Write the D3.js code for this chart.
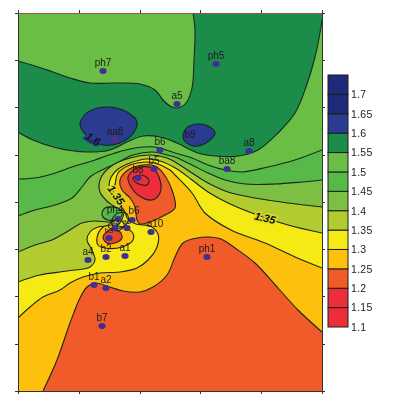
<!DOCTYPE html>
<html>
<head>
<meta charset="utf-8">
<script src="https://cdn.jsdelivr.net/npm/d3@7"></script>
<style>
  html, body { margin: 0; padding: 0; background: #fff; }
  svg { display: block; filter: blur(0.4px); font-family: "Liberation Sans", Arial, sans-serif; }
  .contour { fill: none; stroke: #17291c; stroke-width: 1.1px; }
  .axis path, .axis line { stroke: #333; stroke-width: 1px; }
</style>
</head>
<body>
<svg id="chart" width="398" height="405"></svg>
<script>
var svgWidth = 398;
var svgHeight = 405;

// legend
var levels = [1.1, 1.15, 1.2, 1.25, 1.3, 1.35, 1.4, 1.45, 1.5, 1.55, 1.6, 1.65, 1.7, 1.75];
var levelLabels = [1.1, 1.15, 1.2, 1.25, 1.3, 1.35, 1.4, 1.45, 1.5, 1.55, 1.6, 1.65, 1.7];
var bandColors = ['#ed2e3a', '#ed2e3a', '#f15a29', '#fdc10d', '#f6ea14', '#b2cc30', '#7dbf43',
  '#57b947', '#6abd45', '#1b8c4a', '#2b3b90', '#202a7a', '#202a7a'];

// ticks, map units
var xTicks = [0, 61, 122, 182, 243, 304];
var yTicks = [0, 47, 95, 142, 189, 236, 284, 331, 378];

// isolines, [x, y] in map units
var darkUpper = [[0,330],[17,325],[32,320],[52,313],[72,308],[97,308],[122,307],[137,301],[145,291],[152,285],[159,283],[168,288],[174,303],[176,331],[177,361],[175,378]];
var darkLower = [[0,259],[15,251],[39,243],[69,239],[92,241],[109,249],[125,255],[142,254],[159,248],[180,238],[197,235],[220,235],[240,241],[260,258],[277,278],[288,304],[297,334],[303,364],[304,371]];
var navyWest = [[62,268],[70,279],[89,284],[109,279],[119,269],[114,256],[102,248],[85,246],[72,253],[64,261]];
var navyEast = [[165,256],[170,264],[180,267],[190,265],[197,258],[192,251],[180,245],[172,246],[166,251]];
var iso150 = [[0,212],[17,213],[34,217],[54,224],[77,231],[97,238],[117,243],[137,244],[157,238],[174,233],[190,226],[207,221],[224,219],[250,224],[277,231],[304,241]];
var iso145 = [[0,175],[17,181],[37,186],[54,193],[64,204],[72,214],[84,221],[97,227],[115,236],[135,239],[149,236],[157,234],[174,226],[190,218],[207,211],[227,207],[257,207],[284,209],[304,211]];
var iso140 = [[0,139],[17,146],[34,151],[47,158],[64,168],[77,170],[90,169],[96,170],[97,183],[90,189],[82,199],[82,211],[92,224],[112,233],[132,236],[149,233],[157,229],[174,218],[190,208],[210,199],[237,193],[270,188],[304,184]];
var iso135 = [[0,109],[22,116],[49,120],[72,124],[77,131],[74,141],[69,151],[72,159],[80,164],[92,165],[101,167],[106,181],[100,190],[92,201],[92,211],[99,221],[112,228],[129,232],[142,230],[159,222],[174,211],[190,199],[210,188],[234,178],[270,166],[304,158]];
var iso130 = [[0,73],[12,84],[25,94],[42,101],[52,108],[65,114],[82,118],[102,119],[119,123],[130,131],[139,144],[140,157],[132,165],[125,166],[118,167],[109,173],[107,179],[102,186],[95,198],[97,206],[100,218],[112,226],[127,229],[137,228],[152,221],[157,216],[174,198],[187,178],[213,161],[247,148],[277,134],[304,123]];
var iso125 = [[25,0],[39,31],[52,68],[62,93],[69,104],[77,108],[92,104],[105,100],[122,99],[135,104],[149,116],[157,134],[165,148],[179,153],[190,154],[203,152],[217,143],[237,128],[260,103],[280,81],[304,59]];
var peakOrange = [[102,211],[110,221],[125,226],[137,225],[145,218],[155,198],[157,183],[147,176],[132,169],[122,167],[119,171],[117,184],[112,193],[104,201]];
var peakRed = [[110,214],[119,223],[134,223],[142,211],[142,198],[134,191],[120,196],[112,206]];
var peakInner = [[115,213],[124,216],[131,211],[129,206],[119,208]];
var spotAmber = [[79,153],[84,163],[94,166],[114,159],[115,151],[104,144],[87,143],[80,146]];
var spotRed = [[85,154],[92,161],[102,159],[104,153],[97,148],[89,148]];
var clusterGreen = [[84,176],[87,183],[100,183],[104,179],[102,173],[90,171]];
var clusterRing = [[94,171],[100,178],[109,177],[110,169],[102,163],[95,165]];
var clusterInner = [[90,165],[97,171],[104,170],[106,165],[99,160]];

// sample points
var pointNames = ['ph7','a5','ph5','aa8','b9','b6','b5','b8','a8','ba8','ph1','ph4','b6','a3','a6','b3','a10','a4','b2','a1','b1','a2','b7'];
var pointX = [85,159,198,97,172,142,136,120,231,209,189,100,114,97,109,91,133,70,88,107,76,88,84];
var pointY = [320,287,327,251,256,241,222,213,240,222,134,172,171,163,163,153,159,131,134,135,106,103,65];

// labels sitting on isolines
var isoLabels = ['1.6', '1.35', '1.35'];
var isoLabelX = [75, 247, 98];
var isoLabelY = [252, 173, 196];

var x = d3.scaleLinear().domain([0, 304]).range([18, 322]);
var y = d3.scaleLinear().domain([0, 378]).range([391, 13]);
var legendY = d3.scaleLinear().domain([1.1, 1.75]).range([327, 75]);

var svg = d3.select('#chart');

svg.append('clipPath')
  .attr('id', 'plotClip')
  .append('rect')
  .attr('x', x(0))
  .attr('y', y(378))
  .attr('width', x(304) - x(0))
  .attr('height', y(0) - y(378));

var plot = svg.append('g').attr('clip-path', 'url(#plotClip)');

var openLine = d3.line()
  .x(function(d) { return x(d[0]); })
  .y(function(d) { return y(d[1]); })
  .curve(d3.curveCatmullRom.alpha(0.5));

var closedLine = d3.line()
  .x(function(d) { return x(d[0]); })
  .y(function(d) { return y(d[1]); })
  .curve(d3.curveCatmullRomClosed.alpha(0.5));

function colorOf(level) {
  return bandColors[levels.indexOf(level)];
}

function toCorner(c) {
  return 'L' + x(c[0]) + ',' + y(c[1]);
}

// isoline, then straight along the map edge to close the area
function edgeFill(line, corners, color) {
  plot.append('path')
    .attr('d', openLine(line) + corners.map(toCorner).join('') + 'Z')
    .attr('fill', color);
  plot.append('path').attr('class', 'contour').attr('d', openLine(line));
}

function blob(line, color) {
  plot.append('path')
    .attr('class', 'contour')
    .attr('d', closedLine(line))
    .style('fill', color || 'none');
}

var bottomCorners = [[304, 0], [0, 0]];

plot.append('rect')
  .attr('x', x(0))
  .attr('y', y(378))
  .attr('width', x(304) - x(0))
  .attr('height', y(0) - y(378))
  .attr('fill', colorOf(1.5));

// dark green band has two isolines
plot.append('path')
  .attr('d', openLine(darkUpper) + toCorner([304, 378]) + openLine(darkLower.slice().reverse()).replace('M', 'L') + 'Z')
  .attr('fill', colorOf(1.55));
plot.append('path').attr('class', 'contour').attr('d', openLine(darkUpper));
plot.append('path').attr('class', 'contour').attr('d', openLine(darkLower));

blob(navyWest, colorOf(1.6));
blob(navyEast, colorOf(1.6));

edgeFill(iso150, bottomCorners, colorOf(1.45));
edgeFill(iso145, bottomCorners, colorOf(1.4));
edgeFill(iso140, bottomCorners, colorOf(1.35));
edgeFill(iso135, bottomCorners, colorOf(1.3));
edgeFill(iso130, bottomCorners, colorOf(1.25));
edgeFill(iso125, [[304, 0]], colorOf(1.2));

blob(peakOrange, colorOf(1.2));
blob(peakRed, colorOf(1.15));
blob(peakInner, colorOf(1.1));
blob(spotAmber, colorOf(1.25));
blob(spotRed, '#ea4529');
blob(clusterGreen, colorOf(1.45));
blob(clusterRing);
blob(clusterInner);

// frame
function frame(axis, dx, dy, color) {
  var g = svg.append('g')
    .attr('class', 'axis')
    .attr('transform', 'translate(' + dx + ',' + dy + ')')
    .call(axis.tickSize(3).tickFormat(''));
  if (color) g.select('.domain').style('stroke', color);
}
frame(d3.axisBottom(x).tickValues(xTicks), 0, y(0));
frame(d3.axisTop(x).tickValues(xTicks), 0, y(378), '#a04f4f');
frame(d3.axisLeft(y).tickValues(yTicks), x(0), 0);
frame(d3.axisRight(y).tickValues(yTicks), x(304), 0);

// labels on isolines
svg.selectAll('.isoLabel')
  .data(isoLabels)
  .enter()
  .append('text')
  .attr('class', 'isoLabel')
  .attr('transform', function(d, i) {
    var angle = [32, 14, 55][i];
    return 'translate(' + x(isoLabelX[i]) + ',' + y(isoLabelY[i]) + ') rotate(' + angle + ')';
  })
  .attr('text-anchor', 'middle')
  .attr('dy', '0.35em')
  .attr('font-size', 11)
  .attr('font-weight', 'bold')
  .attr('font-style', 'italic')
  .attr('fill', '#111')
  .style('paint-order', 'stroke')
  .style('stroke-width', '3px')
  .style('stroke', function(d, i) {
    return [colorOf(1.6), '#dcdf20', '#d8dc20'][i];
  })
  .text(function(d) { return d; });

// sample points and their names
// offsets by index, the crowded cluster near the middle is nudged apart
var labelDx = { 11: -3, 12: 2, 16: 4 };
var labelDy = { 4: 3, 3: -5, 11: -6, 12: -6, 13: -4, 14: -4 };
var smallLabels = [13, 14, 15];

svg.selectAll('.point')
  .data(pointNames)
  .enter()
  .append('ellipse')
  .attr('class', 'point')
  .attr('cx', function(d, i) { return x(pointX[i]); })
  .attr('cy', function(d, i) { return y(pointY[i]); })
  .attr('rx', 3.6)
  .attr('ry', 3)
  .attr('fill', function(d) { return d === 'aa8' ? '#5b2d86' : '#3f2f94'; });

svg.selectAll('.pointName')
  .data(pointNames)
  .enter()
  .append('text')
  .attr('class', 'pointName')
  .attr('x', function(d, i) { return x(pointX[i]) + (labelDx[i] || 0); })
  .attr('y', function(d, i) { return y(pointY[i]) + (i in labelDy ? labelDy[i] : -5); })
  .attr('text-anchor', 'middle')
  .attr('font-size', function(d, i) { return smallLabels.indexOf(i) >= 0 ? 7.5 : 10; })
  .attr('fill', '#1c1c1c')
  .text(function(d) { return d; });

// legend bar
var legendBands = levels.slice(0, -1);

svg.selectAll('.band')
  .data(legendBands)
  .enter()
  .append('rect')
  .attr('class', 'band')
  .attr('x', 328)
  .attr('width', 20)
  .attr('y', function(d, i) { return legendY(levels[i + 1]); })
  .attr('height', function(d, i) { return legendY(levels[i]) - legendY(levels[i + 1]); })
  .attr('fill', function(d, i) { return bandColors[i]; })
  .attr('stroke', '#1c1c1c')
  .attr('stroke-width', 1);

var legendAxis = d3.axisRight(legendY)
  .tickValues(levelLabels)
  .tickSize(0)
  .tickPadding(3)
  .tickFormat(function(d) { return d; });

var legendG = svg.append('g')
  .attr('transform', 'translate(348,0)')
  .call(legendAxis);
legendG.select('.domain').remove();
legendG.selectAll('text')
  .attr('font-size', 10.5)
  .attr('font-family', '"Liberation Sans", Arial, sans-serif')
  .attr('fill', '#222')
  .style('letter-spacing', '0.3px');
</script>
</body>
</html>
